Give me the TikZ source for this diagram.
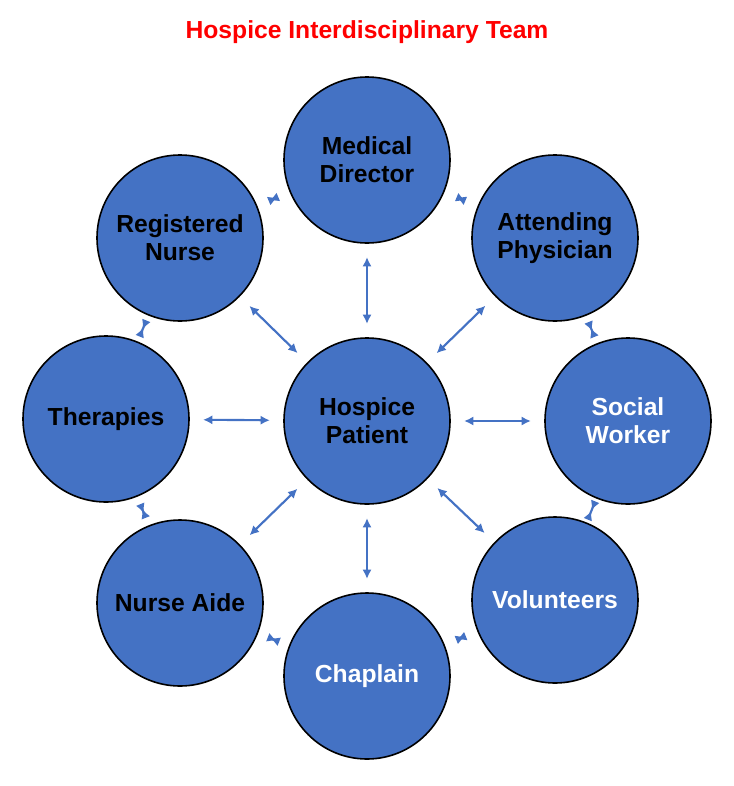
\documentclass[tikz,border=0pt]{standalone}
\usepackage{fontspec}
\setmainfont{Liberation Sans}
\usetikzlibrary{arrows.meta}
\definecolor{teamblue}{HTML}{4472C4}
\begin{document}
\begin{tikzpicture}[x=0.75pt, y=-0.75pt,
  member/.style={circle, draw=black, line width=1.2pt, fill=teamblue,
    minimum size=124.5pt, inner sep=0pt, align=center,
    font=\fontsize{18.5}{21}\selectfont\bfseries},
  link/.style={draw=teamblue, line width=1.6pt, {Latex[length=7pt,width=7pt]}-{Latex[length=7pt,width=7pt]},
    shorten <=10pt, shorten >=10pt}]
  \useasboundingbox (0,0) rectangle (733,786);

  % Title
  \node (title) [text=red, font=\fontsize{18.5}{21}\selectfont\bfseries] at (367,32)
    {Hospice Interdisciplinary Team};

  % Circles
  \node [member] (patient) at (367,421) {Hospice\\Patient};
  \node [member] (director) at (367,160) {Medical\\Director};
  \node [member] (nurse) at (180,238) {Registered\\Nurse};
  \node [member] (physician) at (555,238) {Attending\\Physician};
  \node [member] (therapies) at (106,419) {Therapies};
  \node [member, text=white] (social) at (628,421) {Social\\Worker};
  \node [member] (aide) at (180,603) {Nurse Aide};
  \node [member, text=white] (volunteers) at (555,600) {Volunteers};
  \node [member, text=white] (chaplain) at (367,676) {Chaplain};

  % Spokes
  \foreach \m in {director, nurse, physician, therapies, social, aide, volunteers, chaplain}
    \draw [link] (patient) -- (\m);

  % Ring
  \draw [link] (director) -- (physician);
  \draw [link] (physician) -- (social);
  \draw [link] (social) -- (volunteers);
  \draw [link] (volunteers) -- (chaplain);
  \draw [link] (chaplain) -- (aide);
  \draw [link] (aide) -- (therapies);
  \draw [link] (therapies) -- (nurse);
  \draw [link] (nurse) -- (director);
\end{tikzpicture}
\end{document}
